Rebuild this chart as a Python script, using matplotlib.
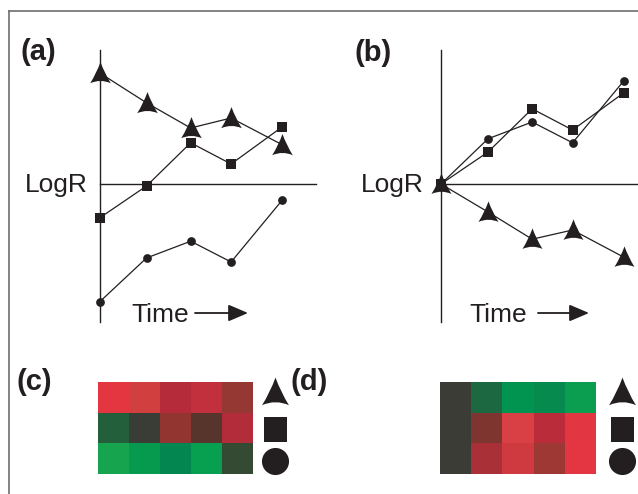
import numpy as np
import matplotlib
matplotlib.use('Agg')
import matplotlib.pyplot as plt
from matplotlib.path import Path
from matplotlib.lines import Line2D
from matplotlib.colors import to_rgb

# ---------------- data ----------------
time = [0, 1.0, 1.94, 2.8, 3.89]

a_triangle = [2.78, 2.03, 1.40, 1.65, 0.98]
a_square = [-0.85, -0.05, 1.03, 0.50, 1.43]
a_circle = [-2.95, -1.85, -1.43, -1.95, -0.40]

b_circle = [0, 1.13, 1.55, 1.03, 2.58]
b_square = [0, 0.80, 1.88, 1.35, 2.28]
b_triangle = [0, -0.70, -1.38, -1.15, -1.83]

# heatmap cell colours (rows: triangle, square, circle; columns: time points)
heat_c = [['#e43641', '#d23f3f', '#b52b39', '#c22f3d', '#953733'],
          ['#245f3b', '#3a3d35', '#923530', '#58352c', '#b32c39'],
          ['#17a44f', '#069a4e', '#048650', '#07a051', '#344a33']]
heat_d = [['#3c3c37', '#1b6841', '#009450', '#068a4e', '#0b9e51'],
          ['#3c3c37', '#7e3530', '#d84045', '#ba2c3a', '#e23642'],
          ['#3c3c37', '#a93036', '#cf3a40', '#9d3834', '#e33642']]

panel_labels = ['(a)', '(b)', '(c)', '(d)']
axis_y_label = 'LogR'
axis_x_label = 'Time'

# ---------------- style ----------------
W, H = 638, 494
INK = '#231f20'
FONT = 'Liberation Sans'
plt.rcParams['font.family'] = [FONT, 'DejaVu Sans']

def fx(x):
    return x / W

def fy(y):
    return 1 - y / H

# arrowhead-like marker
arrow_marker = Path(
    [(0, 1), (0.36, 0.0), (0.9, -0.85), (0, -0.45), (-0.9, -0.85),
     (-0.36, 0.0), (0, 1), (0, 1)],
    [Path.MOVETO, Path.CURVE3, Path.CURVE3, Path.CURVE3, Path.CURVE3,
     Path.CURVE3, Path.CURVE3, Path.CLOSEPOLY])
rect_marker = Path([(-0.46, -0.5), (0.46, -0.5), (0.46, 0.5), (-0.46, 0.5), (-0.46, -0.5)],
                   [Path.MOVETO, Path.LINETO, Path.LINETO, Path.LINETO, Path.CLOSEPOLY])

fig = plt.figure(figsize=(W / 100, H / 100), dpi=100)
fig.patch.set_facecolor('white')

# frame lines (top and left)
fig.add_artist(Line2D([fx(9), fx(9)], [0, fy(11)], color='#6d6e71', lw=1.2))
fig.add_artist(Line2D([fx(9), 1], [fy(11), fy(11)], color='#6d6e71', lw=1.2))

PX_X = 47.0  # pixels per time unit
PX_Y = 40.0  # pixels per LogR unit
top_px, bot_px, zero_px = 50, 322, 184

def line_panel(left_px, right_px, series):
    ax = fig.add_axes([fx(left_px), fy(bot_px), (right_px - left_px) / W, (bot_px - top_px) / H])
    for vals, mk, ms in series:
        ax.plot(time, vals, color=INK, lw=0.9, marker=mk, ms=ms,
                mfc=INK, mec=INK, mew=0, clip_on=False, zorder=3)
    ax.set_xlim(0, (right_px - left_px) / PX_X)
    ax.set_ylim(-(bot_px - zero_px) / PX_Y, (zero_px - top_px) / PX_Y)
    for s in ['top', 'right']:
        ax.spines[s].set_visible(False)
    ax.spines['bottom'].set_position(('data', 0))
    for s in ['left', 'bottom']:
        ax.spines[s].set_color(INK)
        ax.spines[s].set_linewidth(1.0)
    ax.set_xticks([])
    ax.set_yticks([])
    ax.patch.set_alpha(0)
    return ax

line_panel(99.5, 316, [(a_triangle, arrow_marker, 16.5),
                        (a_square, 's', 6.6),
                        (a_circle, 'o', 6.3)])
line_panel(441, 638, [(b_circle, 'o', 6.3),
                      (b_square, 's', 6.6),
                      (b_triangle, arrow_marker, 16.0)])

# labels
tk = dict(color=INK, fontsize=19)
fig.text(fx(88), fy(192), axis_y_label, ha='right', va='baseline', **tk)
fig.text(fx(424), fy(192), axis_y_label, ha='right', va='baseline', **tk)
fig.text(fx(131), fy(322), axis_x_label, ha='left', va='baseline', **tk)
fig.text(fx(469), fy(322), axis_x_label, ha='left', va='baseline', **tk)
for x0, x1 in [(195, 248), (538, 589)]:
    fig.add_artist(matplotlib.patches.FancyArrowPatch(
        (fx(x0), fy(313)), (fx(x1), fy(313)), transform=fig.transFigure,
        arrowstyle='-|>,head_length=0.75,head_width=0.32', mutation_scale=16,
        color=INK, lw=1.3, shrinkA=0, shrinkB=0))

bk = dict(color=INK, fontsize=21, fontweight='bold', ha='left', va='baseline')
fig.text(fx(21), fy(60), panel_labels[0], **bk)
fig.text(fx(355), fy(61), panel_labels[1], **bk)
fig.text(fx(16), fy(390), panel_labels[2], **bk)
fig.text(fx(290), fy(390), panel_labels[3], **bk)

def heat_panel(left_px, right_px, cells, sym_x):
    ax = fig.add_axes([fx(left_px), fy(474), (right_px - left_px) / W, (474 - 382) / H])
    rgb = np.array([[to_rgb(c) for c in row] for row in cells])
    ax.imshow(rgb, aspect='auto', interpolation='nearest')
    ax.plot([sym_x], [-0.17], marker=arrow_marker, ms=21.5, color=INK, mew=0, clip_on=False)
    ax.plot([sym_x], [1.02], marker=rect_marker, ms=18, color=INK, mew=0, clip_on=False)
    ax.plot([sym_x], [2.09], marker='o', ms=19.5, color=INK, mew=0, clip_on=False)
    ax.set_xlim(-0.5, len(cells[0]) - 0.5)
    ax.set_ylim(len(cells) - 0.5, -0.5)
    ax.set_axis_off()
    return ax

heat_panel(98, 253, heat_c, 5.21)
heat_panel(440, 596, heat_d, 5.33)

fig.savefig('out.png', dpi=100, facecolor='white')
